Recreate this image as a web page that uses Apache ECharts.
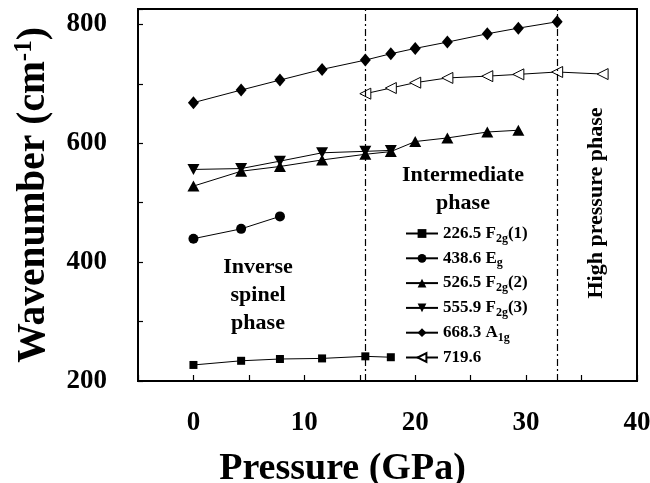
<!DOCTYPE html>
<html>
<head>
<meta charset="utf-8">
<script src="https://cdn.jsdelivr.net/npm/echarts@6/dist/echarts.min.js"></script>
<style>html,body{margin:0;padding:0;background:#fff;}#c{width:650px;height:483px;}</style>
</head>
<body>
<div id="c"></div>
<script>
// ---- data ----
const f2g1P = [0, 4.3, 7.8, 11.6, 15.5, 17.8];
const f2g1W = [227, 234, 237, 238, 241.5, 240];
const egP = [0, 4.3, 7.8];
const egW = [439.5, 456, 477];
const f2g2P = [0, 4.3, 7.8, 11.6, 15.5, 17.8, 20.0, 22.9, 26.5, 29.3];
const f2g2W = [528, 553, 561, 572, 581.5, 586, 603, 609, 619, 622];
const f2g3P = [0, 4.3, 7.8, 11.6, 15.5, 17.8];
const f2g3W = [556, 557.5, 570, 584, 586.5, 588];
const a1gP = [0, 4.3, 7.8, 11.6, 15.5, 17.8, 20.0, 22.9, 26.5, 29.3, 32.8];
const a1gW = [668.4, 689.6, 706.4, 724.4, 740, 750.7, 759.7, 770.3, 784.3, 793.8, 804.5];
const m719P = [15.5, 17.8, 20.0, 22.9, 26.5, 29.3, 32.8, 36.9];
const m719W = [683.5, 693, 702, 710, 713, 716, 720, 716.5];
const phaseBoundaries = [15.5, 32.85];
const seriesNames = ['226.5 F2g(1)', '438.6 Eg', '526.5 F2g(2)', '555.9 F2g(3)', '668.3 A1g', '719.6'];
const legendRichText = {
  '226.5 F2g(1)': '{t|226.5 F}{s|2g}{t|(1)}',
  '438.6 Eg': '{t|438.6 E}{s|g}',
  '526.5 F2g(2)': '{t|526.5 F}{s|2g}{t|(2)}',
  '555.9 F2g(3)': '{t|555.9 F}{s|2g}{t|(3)}',
  '668.3 A1g': '{t|668.3 A}{s|1g}',
  '719.6': '{t|719.6}'
};
const xTickLabels = [0, 10, 20, 30, 40];
const yTickLabels = [200, 400, 600, 800];

const FONT = '"Liberation Serif", "Times New Roman", serif';
function pairs(xs, ys) { return xs.map((x, i) => [x, ys[i]]); }

const chart = echarts.init(document.getElementById('c'), null, {renderer: 'canvas'});

function mkSeries(name, xs, ys, symbol, size, open) {
  return {
    name: name, type: 'line', data: pairs(xs, ys),
    symbol: symbol, symbolSize: size, showSymbol: true,
    lineStyle: {color: '#000', width: 1},
    itemStyle: open ? {color: '#fff', borderColor: '#000', borderWidth: 1} : {color: '#000', borderColor: '#000', borderWidth: 0},
    emphasis: {disabled: true},
    animation: false, z: 3
  };
}

const series = [
  mkSeries(seriesNames[0], f2g1P, f2g1W, 'rect', 8),
  mkSeries(seriesNames[1], egP, egW, 'circle', 10),
  mkSeries(seriesNames[2], f2g2P, f2g2W, 'triangle', [12, 11]),
  mkSeries(seriesNames[3], f2g3P, f2g3W, 'path://M0,0 L10,0 L5,10 Z', [12, 11]),
  mkSeries(seriesNames[4], a1gP, a1gW, 'diamond', [11, 13]),
  mkSeries(seriesNames[5], m719P, m719W, 'path://M10,0 L10,10 L0,5 Z', [11, 11], true)
];
series[4].markLine = {
  silent: true, symbol: 'none', label: {show: false},
  lineStyle: {color: '#000', width: 1.2, type: [7, 3, 2, 3]},
  data: phaseBoundaries.map(v => ({xAxis: v}))
};

const option = {
  backgroundColor: '#fff',
  animation: false,
  grid: {left: 138, right: 13, top: 9, bottom: 102, show: true, borderColor: '#000', borderWidth: 2, containLabel: false, outerBoundsMode: 'none'},
  xAxis: {
    type: 'value', min: -5, max: 40, interval: 5,
    name: 'Pressure (GPa)', nameLocation: 'middle', nameGap: 69,
    nameTextStyle: {fontFamily: FONT, fontWeight: 'bold', fontSize: 38, color: '#000', padding: [0, 90, 0, 0]},
    axisLine: {show: true, onZero: false, lineStyle: {color: '#000', width: 2}},
    axisTick: {show: true, inside: true, length: 6, lineStyle: {color: '#000', width: 1.2}},
    axisLabel: {
      fontFamily: FONT, fontWeight: 'bold', fontSize: 27, color: '#000', margin: 29,
      formatter: v => xTickLabels.indexOf(v) >= 0 ? String(v) : ''
    },
    splitLine: {show: false}
  },
  yAxis: {
    type: 'value', min: 200, max: 826, interval: 100,
    name: '{t|Wavenumber (cm}{p|-1}{t|)}', nameLocation: 'middle', nameGap: 82, nameRotate: 90,
    nameTextStyle: {
      color: '#000',
      rich: {
        t: {fontFamily: FONT, fontWeight: 'bold', fontSize: 39.5, color: '#000', lineHeight: 44},
        p: {fontFamily: FONT, fontWeight: 'bold', fontSize: 25, color: '#000', lineHeight: 44, verticalAlign: 'top'}
      }
    },
    axisLine: {show: true, onZero: false, lineStyle: {color: '#000', width: 2}},
    axisTick: {show: true, inside: true, length: 5, lineStyle: {color: '#000', width: 1.2}},
    axisLabel: {
      fontFamily: FONT, fontWeight: 'bold', fontSize: 27, color: '#000', margin: 31,
      formatter: v => yTickLabels.indexOf(v) >= 0 ? String(v) : ''
    },
    splitLine: {show: false}
  },
  legend: {
    data: seriesNames, orient: 'vertical', left: 400, top: 220,
    itemWidth: 32, itemHeight: 11, itemGap: 5.3,
    selectedMode: false,
    formatter: n => legendRichText[n],
    textStyle: {
      color: '#000',
      rich: {
        t: {fontFamily: FONT, fontWeight: 'bold', fontSize: 17, color: '#000', lineHeight: 22},
        s: {fontFamily: FONT, fontWeight: 'bold', fontSize: 12, color: '#000', lineHeight: 22, verticalAlign: 'bottom'}
      }
    }
  },
  graphic: [
    {type: 'text', x: 258, y: 295, style: {text: 'Inverse\nspinel\nphase', font: 'bold 22px ' + FONT, fill: '#000', align: 'center', verticalAlign: 'middle', lineHeight: 28}},
    {type: 'text', x: 463, y: 189, style: {text: 'Intermediate\nphase', font: 'bold 22px ' + FONT, fill: '#000', align: 'center', verticalAlign: 'middle', lineHeight: 28}},
    {type: 'text', x: 596, y: 203, rotation: Math.PI / 2, style: {text: 'High pressure phase', font: 'bold 22px ' + FONT, fill: '#000', align: 'center', verticalAlign: 'middle'}}
  ],
  series: series
};
chart.setOption(option);
</script>
</body>
</html>
